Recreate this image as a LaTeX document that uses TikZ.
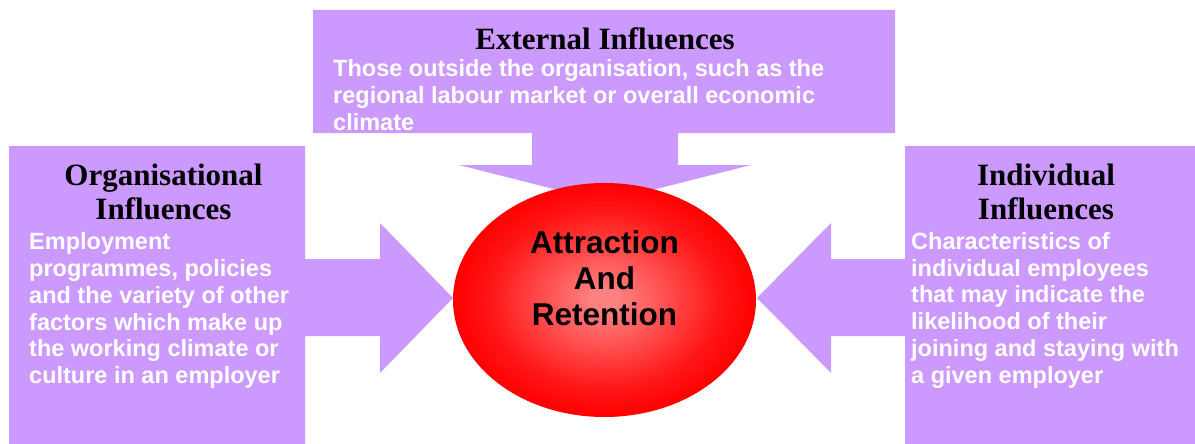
\documentclass[tikz,border=0pt]{standalone}
\usepackage{fontspec}
\setmainfont{Liberation Serif}
\setsansfont{Liberation Sans}
\usepackage{tikz}
\usepackage{xcolor}
\usetikzlibrary{shapes.geometric}

\definecolor{lilac}{RGB}{204,153,255}
\definecolor{pinkcore}{RGB}{255,130,130}
\definecolor{redrim}{RGB}{255,22,22}
\pgfdeclareradialshading{redglow}{\pgfpoint{0bp}{0bp}}{color(0bp)=(pinkcore); color(2bp)=(pinkcore); color(19bp)=(redrim); color(25bp)=(red); color(50bp)=(red)}

\begin{document}
\begin{tikzpicture}[x=1pt,y=-1pt]
\tikzstyle{every node}+=[inner sep=0pt]
\tikzstyle{heading}=[font=\fontsize{31}{34.5}\selectfont\rmfamily\bfseries, text=black, align=center, anchor=north]
\tikzstyle{blurb}=[font=\fontsize{23.5}{26.8}\selectfont\sffamily\bfseries, text=white, align=left, anchor=north west]
\useasboundingbox (0,0) rectangle (1195,444);
% top block, arrow pointing down
\fill [lilac] (313,10) -- (895,10) -- (895,133) -- (678,133) -- (678,165) -- (751,165) -- (605,202)
  -- (459,165) -- (532,165) -- (532,133) -- (313,133) -- cycle;
% left block, arrow pointing right
\fill [lilac] (9,146) -- (305,146) -- (305,259) -- (380,259) -- (380,223) -- (453,298) -- (380,373)
  -- (380,336) -- (305,336) -- (305,444) -- (9,444) -- cycle;
% right block, arrow pointing left
\fill [lilac] (1195,146) -- (905,146) -- (905,259) -- (831,259) -- (831,223) -- (757,298) -- (831,373)
  -- (831,336) -- (905,336) -- (905,444) -- (1195,444) -- cycle;
% the centre
\node [ellipse, shading=redglow, minimum width=303pt, minimum height=234pt] (core) at (604.5,300) {};
\node [font=\fontsize{31.5}{36}\selectfont\sffamily\bfseries, align=center] (corelabel) at (604.5,278) {Attraction\\And\\Retention};
% headings
\node [heading] (exthead) at (605,27) {External Influences};
\node [heading] (orghead) at (163.5,163.6) {Organisational\\Influences};
\node [heading] (indhead) at (1046,163.6) {Individual\\Influences};
% white texts
\node [blurb] (exttext) at (333,59.2) {Those outside the organisation, such as the\\regional labour market or overall economic\\climate};
\node [blurb] (orgtext) at (29,232.5) {Employment\\programmes, policies\\and the variety of other\\factors which make up\\the working climate or\\culture in an employer};
\node [blurb] (indtext) at (911,232) {Characteristics of\\individual employees\\that may indicate the\\likelihood of their\\joining and staying with\\a given employer};
\end{tikzpicture}
\end{document}
